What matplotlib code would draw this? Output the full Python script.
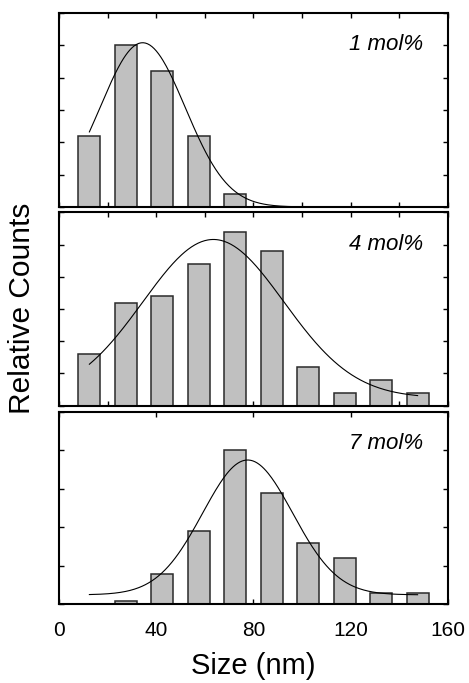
import numpy as np
import matplotlib
matplotlib.use("Agg")
import matplotlib.pyplot as plt
from matplotlib.ticker import MultipleLocator

plt.rcParams["font.family"] = ["Liberation Sans", "DejaVu Sans"]

# bin centres (nm) shared by the three histograms
size_bins = [12.5, 27.5, 42.5, 57.5, 72.5, 87.5, 102.5, 117.5, 132.5, 147.5]

counts_1 = [11, 25, 21, 11, 2, 0, 0, 0, 0, 0]
counts_4 = [8, 16, 17, 22, 27, 24, 6, 2, 4, 2]
counts_7 = [0, 1, 8, 19, 40, 29, 16, 12, 3, 3]

# gaussian fit parameters: offset, amplitude, centre, width
fit_1 = [0.0, 25.4, 34.4, 17.5]
fit_4 = [1.2, 24.6, 63.5, 29.0]
fit_7 = [2.5, 35.0, 77.6, 18.5]

labels = ["1 mol%", "4 mol%", "7 mol%"]


def gauss(x, y0, a, xc, w):
    return y0 + a * np.exp(-(x - xc) ** 2 / (2 * w ** 2))


fig = plt.figure(figsize=(4.69, 6.83), dpi=100)

left, width = 0.1258, 0.8294
boxes = [(0.697, 0.284), (0.406, 0.283), (0.115, 0.282)]
panels = [
    (counts_1, fit_1, 30, 5, 20),
    (counts_4, fit_4, 30, 5, 20),
    (counts_7, fit_7, 50, 10, 40),
]

xfit = np.linspace(size_bins[0], size_bins[-1], 300)

for i, ((bottom, height), (counts, fit, ymax, ystep, xstep)) in enumerate(zip(boxes, panels)):
    ax = fig.add_axes([left, bottom, width, height])
    ax.set_axisbelow(True)
    ax.bar(size_bins, counts, width=9, color="#c0c0c0", edgecolor="#2a2a2a",
           linewidth=1.1, zorder=1)
    ax.plot(xfit, gauss(xfit, *fit), color="black", linewidth=0.8, zorder=3)

    ax.set_xlim(0, 160)
    ax.set_ylim(0, ymax)
    ax.xaxis.set_major_locator(MultipleLocator(xstep))
    ax.yaxis.set_major_locator(MultipleLocator(ystep))
    ax.tick_params(direction="in", top=True, right=True, length=3.5, width=1,
                   labelsize=15, pad=12)
    ax.tick_params(axis="y", labelleft=False)
    if i < 2:
        ax.tick_params(axis="x", labelbottom=False)
    else:
        ax.set_xticks([0, 40, 80, 120, 160])
    for s in ax.spines.values():
        s.set_linewidth(1.5)
        s.set_zorder(4)

    ax.text(0.936, 0.836, labels[i], transform=ax.transAxes, ha="right",
            va="center", fontsize=16, style="italic")

fig.text(0.047, 0.549, "Relative Counts", rotation=90, ha="center",
         va="center", fontsize=21.5)
fig.text(0.54, 0.025, "Size (nm)", ha="center", va="center", fontsize=21)

fig.savefig("out.png", dpi=100)
